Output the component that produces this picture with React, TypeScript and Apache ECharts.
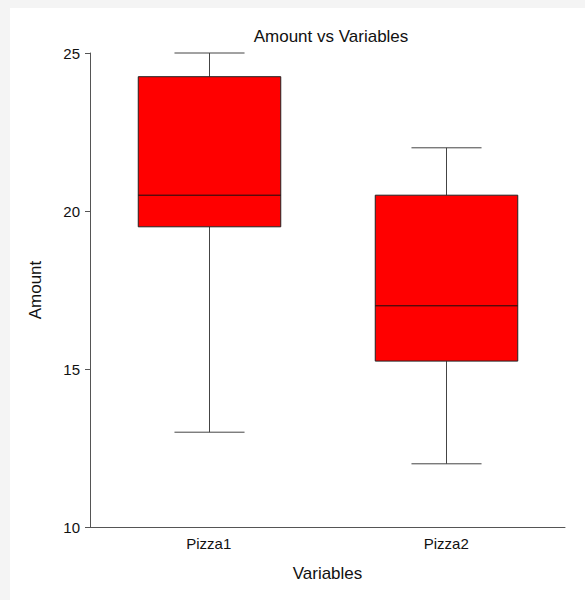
import React, { useEffect, useRef } from "react";
import * as echarts from "echarts";

const categories = ["Pizza1", "Pizza2"];
// [min, Q1, median, Q3, max]
const boxStats = [
  [13, 19.5, 20.5, 24.25, 25],
  [12, 15.25, 17, 20.5, 22],
];
const yTicks = { min: 10, max: 25, interval: 5 };

export default function App() {
  const ref = useRef<HTMLDivElement>(null);
  useEffect(() => {
    const chart = echarts.init(ref.current!, null, { renderer: "svg" });
    const font = "'Liberation Sans', Arial, sans-serif";
    chart.setOption({
      animation: false,
      backgroundColor: "#f4f4f4",
      textStyle: { fontFamily: font },
      graphic: [
        {
          type: "rect",
          z: -10,
          silent: true,
          shape: { x: 10, y: 8, width: 600, height: 600 },
          style: { fill: "#ffffff" },
        },
      ],
      title: {
        text: "Amount vs Variables",
        left: 326,
        top: 23,
        textAlign: "center",
        textStyle: { fontSize: 17, fontWeight: "normal", color: "#111", fontFamily: font },
      },
      grid: { left: 90, right: 20, top: 53, bottom: 73 },
      xAxis: {
        type: "category",
        data: categories,
        name: "Variables",
        nameLocation: "middle",
        nameGap: 38,
        nameTextStyle: { fontSize: 17, color: "#111", fontFamily: font },
        axisLine: { lineStyle: { color: "#555", width: 1 } },
        axisTick: { alignWithLabel: true, length: 5, lineStyle: { color: "#555" } },
        axisLabel: { fontSize: 15, color: "#111", margin: 9, fontFamily: font },
        splitLine: { show: false },
      },
      yAxis: {
        type: "value",
        min: yTicks.min,
        max: yTicks.max,
        interval: yTicks.interval,
        name: "Amount",
        nameLocation: "middle",
        nameGap: 46,
        nameTextStyle: { fontSize: 17, color: "#111", fontFamily: font },
        axisLine: { show: true, lineStyle: { color: "#555", width: 1 } },
        axisTick: { show: true, length: 5, lineStyle: { color: "#555" } },
        axisLabel: { fontSize: 15, color: "#111", margin: 10, fontFamily: font },
        splitLine: { show: false },
      },
      series: [
        {
          type: "custom",
          data: boxStats.map((s, i) => [i, ...s]),
          encode: { x: 0, y: [1, 2, 3, 4, 5] },
          renderItem: (params: any, api: any) => {
            const xi = api.value(0);
            const band = api.size([1, 0])[0];
            const boxW = band * 0.6;
            const capW = band * 0.295;
            const pMin = api.coord([xi, api.value(1)]);
            const pQ1 = api.coord([xi, api.value(2)]);
            const pMed = api.coord([xi, api.value(3)]);
            const pQ3 = api.coord([xi, api.value(4)]);
            const pMax = api.coord([xi, api.value(5)]);
            const cx = Math.round(pMin[0]) + 0.5;
            const lineStyle = { stroke: "#444", lineWidth: 1 };
            return {
              type: "group",
              children: [
                { type: "line", shape: { x1: cx, y1: pMax[1], x2: cx, y2: pQ3[1] }, style: lineStyle },
                { type: "line", shape: { x1: cx, y1: pQ1[1], x2: cx, y2: pMin[1] }, style: lineStyle },
                { type: "line", shape: { x1: cx - capW / 2, y1: pMax[1], x2: cx + capW / 2, y2: pMax[1] }, style: lineStyle },
                { type: "line", shape: { x1: cx - capW / 2, y1: pMin[1], x2: cx + capW / 2, y2: pMin[1] }, style: lineStyle },
                {
                  type: "rect",
                  shape: { x: cx - boxW / 2, y: pQ3[1], width: boxW, height: pQ1[1] - pQ3[1] },
                  style: { fill: "#ff0000", stroke: "#222", lineWidth: 1 },
                },
                {
                  type: "line",
                  shape: { x1: cx - boxW / 2, y1: pMed[1], x2: cx + boxW / 2, y2: pMed[1] },
                  style: { stroke: "#111", lineWidth: 1 },
                },
              ],
            };
          },
        },
      ],
    });
    return () => chart.dispose();
  }, []);
  return (
    <div
      ref={ref}
      style={{ position: "absolute", left: 0, top: 0, width: 585, height: 600 }}
    />
  );
}
